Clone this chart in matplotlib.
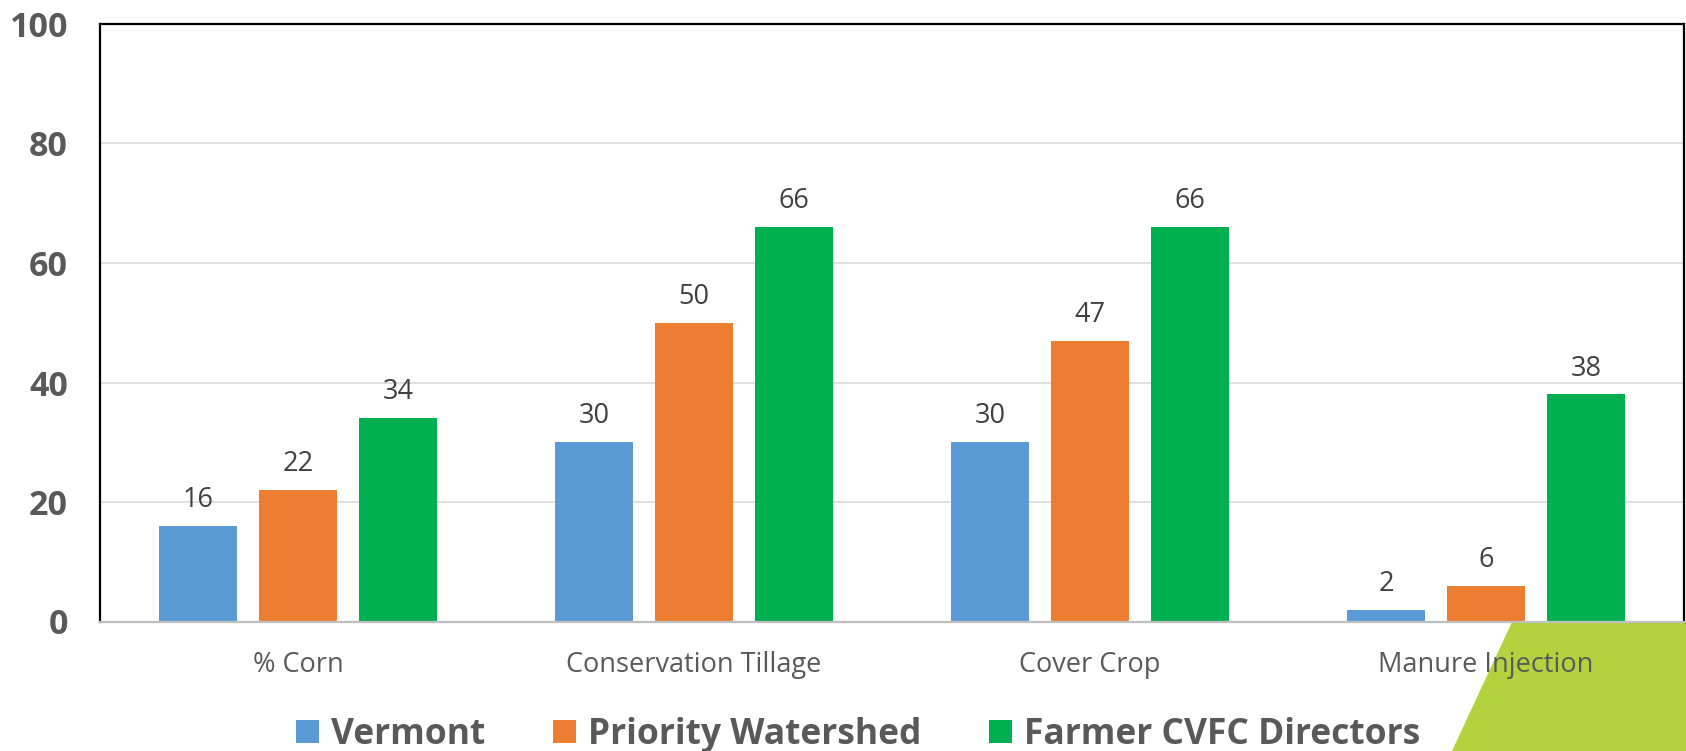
import numpy as np
import matplotlib.pyplot as plt
from matplotlib.patches import Polygon

plt.rcParams['font.family'] = ['Open Sans', 'DejaVu Sans']

# Chart data
categories = ["% Corn", "Conservation Tillage", "Cover Crop", "Manure Injection"]
series_names = ["Vermont", "Priority Watershed", "Farmer CVFC Directors"]
vermont = [16, 30, 30, 2]
priority_watershed = [22, 50, 47, 6]
farmer_cvfc = [34, 66, 66, 38]
y_ticks = [0, 20, 40, 60, 80, 100]

colors = ["#5B9BD5", "#ED7D31", "#00B050"]
series = [vermont, priority_watershed, farmer_cvfc]

fig = plt.figure(figsize=(16.86, 7.51), dpi=100)
ax = fig.add_axes([100 / 1686, 129.5 / 751, 1584 / 1686, 597.5 / 751])

x = np.arange(len(categories))
width = 0.197
step = 0.2525
bars = []
for i, (name, vals, c) in enumerate(zip(series_names, series, colors)):
    b = ax.bar(x + (i - 1) * step, vals, width, color=c, label=name, zorder=3)
    bars.append(b)
    for rect, v in zip(b, vals):
        ax.text(rect.get_x() + rect.get_width() / 2, v + 2.0, f"{v}",
                ha="center", va="bottom", fontsize=19.5, color="#404040", zorder=4)

ax.set_xlim(-0.5, len(categories) - 0.5)
ax.set_ylim(0, 100)
ax.set_yticks(y_ticks)
ax.set_xticks(x)
ax.set_xticklabels(categories, fontsize=19.5, color="#595959")
for lbl in ax.get_yticklabels():
    lbl.set_fontsize(24.5)
    lbl.set_fontweight("bold")
    lbl.set_color("#595959")
ax.tick_params(axis="y", length=0, pad=23)
ax.tick_params(axis="x", length=0, pad=21)
ax.grid(axis="y", color="#D9D9D9", linewidth=1.2, zorder=0)

for side in ["left", "top", "right"]:
    ax.spines[side].set_color("black")
    ax.spines[side].set_linewidth(1.6)
ax.spines["bottom"].set_color("#BFBFBF")
ax.spines["bottom"].set_linewidth(1.6)
ax.spines["bottom"].set_zorder(5)

# green corner accent in the lower right
accent = Polygon([(1512 / 1686, 129 / 751), (1.0, 129 / 751), (1.0, 0.0), (1452 / 1686, 0.0)],
                 closed=True, transform=fig.transFigure, facecolor="#B2D33E",
                 edgecolor="none", zorder=-1)
fig.patches.append(accent)

leg = fig.legend(handles=bars, labels=series_names, loc="lower center",
                 bbox_to_anchor=(858 / 1686, -0.045), ncol=3, frameon=False,
                 prop={"size": 25.5, "weight": "bold"}, handlelength=0.65,
                 handleheight=0.65, handletextpad=0.35, columnspacing=1.9)
for t in leg.get_texts():
    t.set_color("#595959")

fig.savefig("out.png", dpi=100)
